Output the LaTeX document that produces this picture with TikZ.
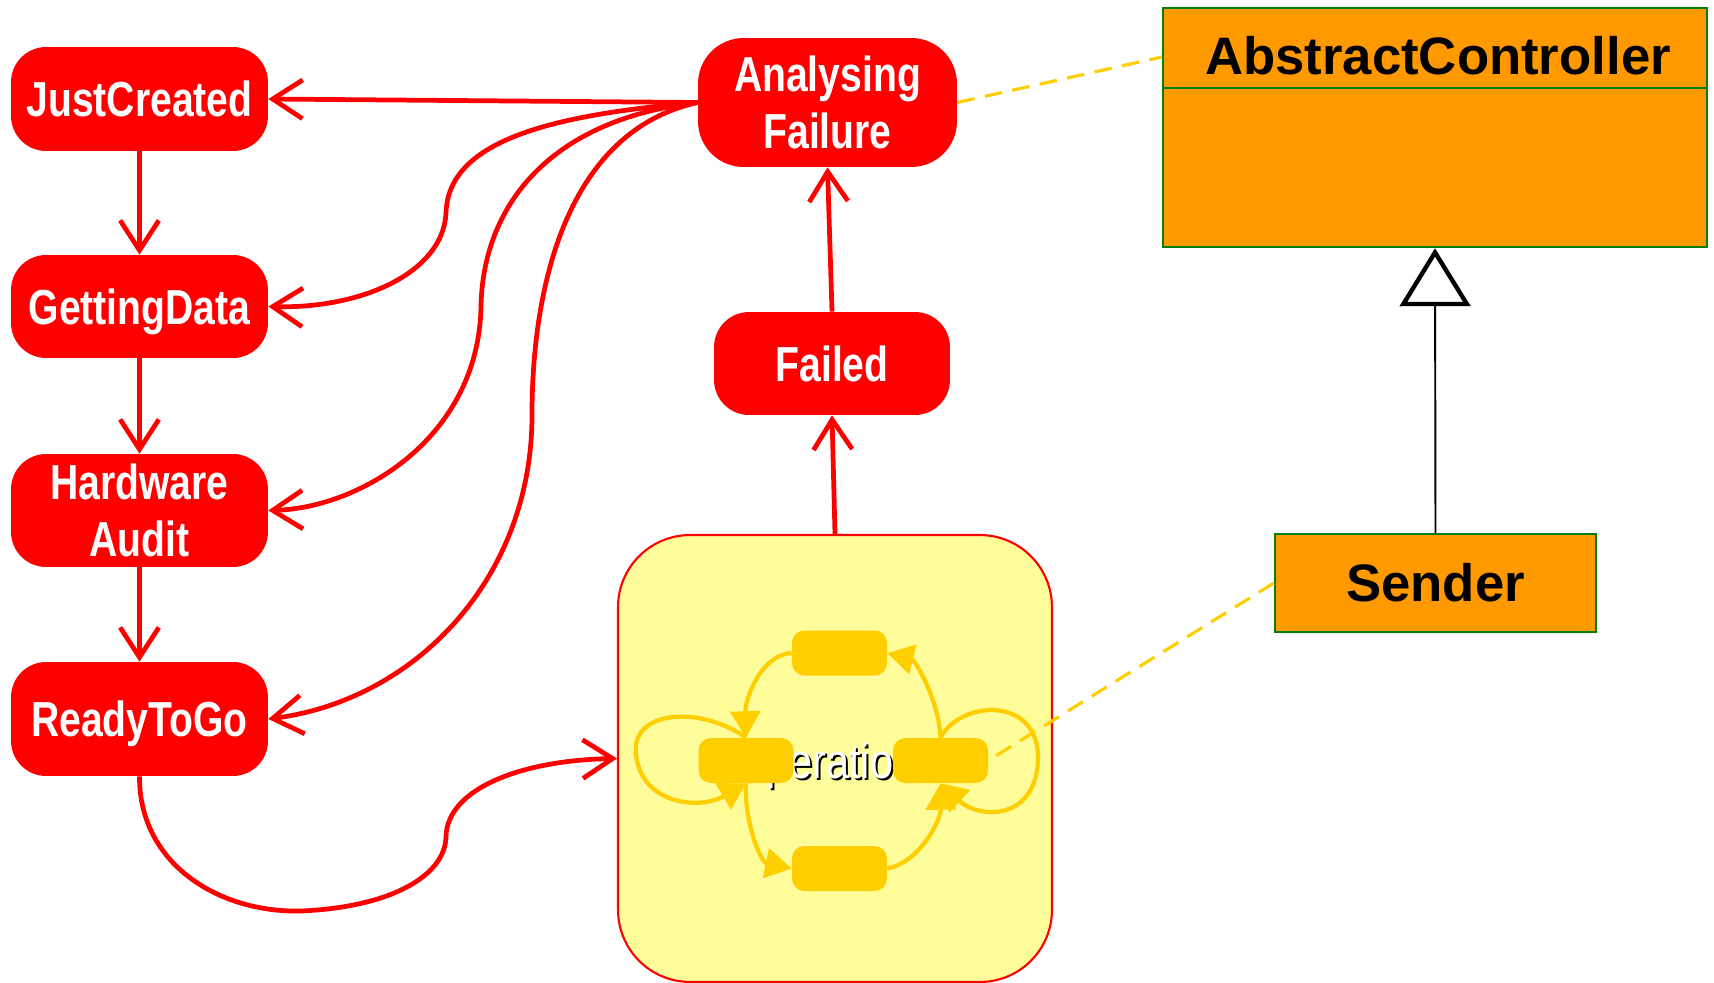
\documentclass[tikz,border=0pt]{standalone}
\usepackage{fontspec}
\setmainfont{Liberation Sans}
\newfontfamily\narrowfont[FakeStretch=0.795]{Liberation Sans Bold}
\newfontfamily\narrowreg[FakeStretch=0.845]{Liberation Sans}
\usetikzlibrary{arrows.meta,calc}
\definecolor{stred}{RGB}{255,0,0}
\definecolor{gold}{RGB}{255,206,0}
\definecolor{paleyellow}{RGB}{255,253,153}
\definecolor{classorange}{RGB}{255,153,0}
\definecolor{classgreen}{RGB}{0,128,0}
\tikzset{
  statebox/.style={draw=none, fill=stred, rounded corners=20pt, text=white,
    font=\narrowfont\fontsize{28}{32}\selectfont, align=center, inner sep=0pt,
    text height=20pt, text depth=0pt},
  twoline/.style={text height=52pt, text depth=0pt},
  redarrow/.style={draw=stred, line width=2.7pt, -{Straight Barb[length=17pt,width=22pt]}},
  substate/.style={fill=gold, draw=none, rounded corners=7pt, minimum width=1.9cm,
    minimum height=0.9cm, inner sep=0pt},
  goldarrow/.style={draw=gold, line width=2.4pt, -{Triangle[length=15pt,width=17pt]}},
  notelink/.style={draw=gold, line width=1.8pt, dash pattern=on 10pt off 6pt},
  classbox/.style={draw=classgreen, fill=classorange, line width=1.4pt, inner sep=0pt},
  classtext/.style={font=\bfseries\fontsize{30}{36}\selectfont, text=black, inner sep=0pt},
}
\begin{document}
\begin{tikzpicture}[x=0.02cm,y=-0.02cm]
\useasboundingbox (0,0) rectangle (1714,983);

% left column states
\node[statebox, minimum width=5.14cm, minimum height=2.08cm] (JC) at (139.5,99) {JustCreated};
\node[statebox, minimum width=5.14cm, minimum height=2.06cm] (GD) at (139.5,306.5) {GettingData};
\node[statebox, twoline, minimum width=5.14cm, minimum height=2.26cm] (HA) at (139.5,510.5) {Hardware\\Audit};
\node[statebox, minimum width=5.14cm, minimum height=2.28cm] (RG) at (139.5,719) {ReadyToGo};
% right column states
\node[statebox, twoline, rounded corners=26pt, minimum width=5.18cm, minimum height=2.58cm] (AF) at (827.5,102.5) {Analysing\\Failure};
\node[statebox, minimum width=4.72cm, minimum height=2.06cm] (FD) at (832,363.5) {Failed};

% composite state
\node[draw=stred, line width=1.2pt, fill=paleyellow, rounded corners=41pt,
  minimum width=8.68cm, minimum height=8.94cm, inner sep=0pt] (OP) at (835,758.5) {};
\node[text=black, font=\narrowreg\fontsize{28}{32}\selectfont, anchor=base, inner sep=0pt] (OPs) at (827,780) {Operation};
\node[text=white, font=\narrowreg\fontsize{28}{32}\selectfont, anchor=base, inner sep=0pt] (OPt) at (825,778) {Operation};

% inner sub-states
\node[substate] (T) at (839.5,653) {};
\node[substate] (L) at (746,760.5) {};
\node[substate] (R) at (940.5,760.5) {};
\node[substate] (B) at (839.5,868.5) {};

% inner transitions
\draw[goldarrow] (T.west) .. controls (760,655) and (745,700) .. (L.north);
\draw[goldarrow] (L.south) .. controls (744,820) and (760,862) .. (B.west);
\draw[goldarrow] (B.east) .. controls (920,862) and (941,820) .. (R.south);
\draw[goldarrow] (R.north) .. controls (939,700) and (915,660) .. (T.east);
\draw[goldarrow] (L.north) .. controls (700,705) and (630,710) .. (636,755)
  .. controls (642,805) and (700,810) .. (L.south);
\draw[goldarrow] (R.north) .. controls (960,700) and (1040,695) .. (1038,760)
  .. controls (1036,820) and (980,820) .. (R.south);

% classes
\node[classbox, minimum width=10.88cm, minimum height=1.6cm] (ACh) at (1435,48) {};
\node[classbox, minimum width=10.88cm, minimum height=3.18cm] (ACb) at (1435,167.5) {};
\node[classtext, anchor=base] (ACt) at (1438,75) {AbstractController};
\node[classbox, minimum width=6.42cm, minimum height=1.96cm, classtext] (SN) at (1435.5,583) {Sender};

% generalization
\draw[black, line width=1.1pt, -{Triangle[open, length=33pt, width=40pt, line width=2.5pt]}] (SN.north) -- (ACb.south);

% note links
\draw[notelink] (AF.east) -- ($(ACh.west)+(0,9)$);
\draw[notelink] (SN.west) -- (R.east);

% red transitions
\draw[redarrow] (JC.south) -- (GD.north);
\draw[redarrow] (GD.south) -- (HA.north);
\draw[redarrow] (HA.south) -- (RG.north);
\draw[redarrow] (AF.west) -- (JC.east);
\draw[redarrow] (AF.west) .. controls (547,115) and (448,142) .. (446,213)
  .. controls (443,273) and (361,309) .. (GD.east);
\draw[redarrow] (AF.west) .. controls (547,120) and (483,208) .. (481,306)
  .. controls (479,437) and (361,508) .. (HA.east);
\draw[redarrow] (AF.west) .. controls (568,131) and (532,284) .. (532,415)
  .. controls (532,579) and (415,700) .. (RG.east);
\draw[redarrow] (RG.south) .. controls (139,864) and (219,913) .. (301,911)
  .. controls (394,907) and (446,874) .. (446,836)
  .. controls (448,787) and (525,760) .. (OP.west);
\draw[redarrow] (FD.north) -- (AF.south);
\draw[redarrow] (OP.north) -- (FD.south);
\end{tikzpicture}
\end{document}
